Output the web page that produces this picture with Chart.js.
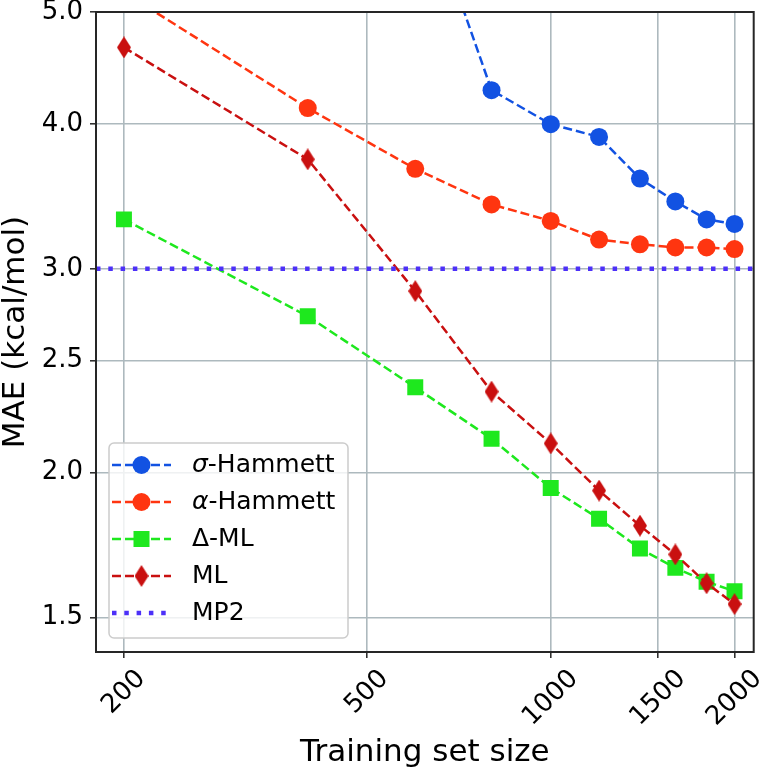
<!DOCTYPE html>
<html><head><meta charset="utf-8">
<script src="https://cdn.jsdelivr.net/npm/chart.js@4.4.1/dist/chart.umd.min.js"></script>
<style>html,body{margin:0;padding:0;background:#fff}canvas{display:block}</style>
</head><body>
<canvas id="c" width="765" height="774"></canvas>
<script>
// ---- data ----
const trainingSizes = [200, 400, 600, 800, 1000, 1200, 1400, 1600, 1800, 2000];
const sigmaHammett = [null, null, 6.6, 4.28, 4.00, 3.90, 3.59, 3.43, 3.31, 3.28];
const alphaHammett = [5.2, 4.13, 3.66, 3.41, 3.30, 3.18, 3.15, 3.13, 3.13, 3.12];
const deltaML = [3.31, 2.73, 2.37, 2.14, 1.94, 1.825, 1.72, 1.655, 1.61, 1.58];
const mlValues = [4.66, 3.73, 2.87, 2.35, 2.12, 1.93, 1.80, 1.70, 1.605, 1.54];
const mp2Value = 3.0;
const xTickValues = [200, 500, 1000, 1500, 2000];
const xTickLabels = ['200', '500', '1000', '1500', '2000'];
const yTickValues = [1.5, 2.0, 2.5, 3.0, 4.0, 5.0];
const yTickLabels = ['1.5', '2.0', '2.5', '3.0', '4.0', '5.0'];
const seriesNames = ['σ-Hammett', 'α-Hammett', 'Δ-ML', 'ML', 'MP2'];
const X_MIN = 180, X_MAX = 2150, Y_MIN = 1.4, Y_MAX = 5.0;

const FONT = "'DejaVu Sans', sans-serif";
Chart.defaults.font.family = FONT;
Chart.defaults.color = '#000';

const C_SIGMA = '#1252e2', C_ALPHA = '#ff3510', C_DML = '#1ee81e', C_ML = '#c91010', C_MP2 = '#4c30f8';

function makeDiamond(color, w, h) {
  const c = document.createElement('canvas');
  c.width = w; c.height = h;
  const g = c.getContext('2d');
  g.fillStyle = color;
  g.beginPath();
  g.moveTo(w / 2, 0); g.lineTo(w, h / 2); g.lineTo(w / 2, h); g.lineTo(0, h / 2);
  g.closePath(); g.fill();
  return c;
}
const diamondImg = makeDiamond(C_ML, 14, 22);

function pts(arr) {
  return trainingSizes.map((x, i) => ({x, y: arr[i]})).filter(p => p.y !== null);
}

const DASH = [9, 4];
const LW = 2.5;

const datasets = [
  {label: seriesNames[0], data: pts(sigmaHammett), borderColor: C_SIGMA, backgroundColor: C_SIGMA,
   borderDash: DASH, borderWidth: LW, pointStyle: 'circle', pointRadius: 9, pointBorderWidth: 0, order: 5},
  {label: seriesNames[1], data: pts(alphaHammett), borderColor: C_ALPHA, backgroundColor: C_ALPHA,
   borderDash: DASH, borderWidth: LW, pointStyle: 'circle', pointRadius: 9, pointBorderWidth: 0, order: 4},
  {label: seriesNames[2], data: pts(deltaML), borderColor: C_DML, backgroundColor: C_DML,
   borderDash: DASH, borderWidth: LW, pointStyle: 'rect', pointRadius: 11.3, pointBorderWidth: 0, order: 3},
  {label: seriesNames[3], data: pts(mlValues), borderColor: C_ML, backgroundColor: C_ML,
   borderDash: DASH, borderWidth: LW, pointStyle: diamondImg, pointRadius: 10, pointBorderWidth: 0, order: 2},
  {label: seriesNames[4], data: [{x: X_MIN, y: mp2Value}, {x: X_MAX, y: mp2Value}], borderColor: C_MP2,
   borderDash: [4.5, 7.8], borderWidth: 4.5, borderCapStyle: 'butt', pointRadius: 0, order: 1}
];

const legendStyles = [
  {color: C_SIGMA, marker: 'circle', italic: 'σ', rest: '-Hammett'},
  {color: C_ALPHA, marker: 'circle', italic: 'α', rest: '-Hammett'},
  {color: C_DML, marker: 'rect', italic: '', rest: 'Δ-ML'},
  {color: C_ML, marker: 'diamond', italic: '', rest: 'ML'},
  {color: C_MP2, marker: 'dots', italic: '', rest: 'MP2'}
];

const extras = {
  id: 'extras',
  afterDatasetsDraw(chart) {
    const {ctx, chartArea: a} = chart;
    ctx.save();
    ctx.strokeStyle = '#262626'; ctx.lineWidth = 2;
    ctx.strokeRect(a.left, a.top, a.right - a.left, a.bottom - a.top);
    ctx.restore();
  },
  afterDraw(chart) {
    const {ctx, chartArea: a} = chart;
    const xs = chart.scales.x;
    // x tick labels rotated 45deg, centred on tick (matplotlib style)
    ctx.save();
    ctx.font = '26px ' + FONT;
    ctx.fillStyle = '#000';
    ctx.textAlign = 'center'; ctx.textBaseline = 'middle';
    const top = a.bottom + 6 + 6;
    xTickValues.forEach((v, i) => {
      const px = xs.getPixelForValue(v);
      const w = ctx.measureText(xTickLabels[i]).width;
      const h = 26 * 1.17;
      const d = (w + h) / Math.SQRT2;
      ctx.save();
      ctx.translate(px, top + d / 2);
      ctx.rotate(-Math.PI / 4);
      ctx.fillText(xTickLabels[i], 0, 0);
      ctx.restore();
    });
    ctx.restore();

    // legend
    const bx = 109, by = 443, bw = 239, bh = 195, r = 5;
    ctx.save();
    ctx.beginPath();
    ctx.moveTo(bx + r, by);
    ctx.arcTo(bx + bw, by, bx + bw, by + bh, r);
    ctx.arcTo(bx + bw, by + bh, bx, by + bh, r);
    ctx.arcTo(bx, by + bh, bx, by, r);
    ctx.arcTo(bx, by, bx + bw, by, r);
    ctx.closePath();
    ctx.fillStyle = 'rgba(255,255,255,0.8)';
    ctx.fill();
    ctx.strokeStyle = '#cccccc'; ctx.lineWidth = 1.5;
    ctx.stroke();
    const rowY = [465, 502, 539, 576, 613];
    const hx0 = 112, hx1 = 171, hm = 141.5, tx = 192;
    legendStyles.forEach((s, i) => {
      const y = rowY[i];
      ctx.save();
      ctx.strokeStyle = s.color;
      if (s.marker === 'dots') {
        ctx.lineWidth = 4.5; ctx.setLineDash([4.5, 7.8]); ctx.lineCap = 'butt';
      } else {
        ctx.lineWidth = LW; ctx.setLineDash(DASH);
      }
      ctx.beginPath(); ctx.moveTo(hx0, y); ctx.lineTo(hx1, y); ctx.stroke();
      ctx.restore();
      ctx.fillStyle = s.color;
      if (s.marker === 'circle') {
        ctx.beginPath(); ctx.arc(hm, y, 9, 0, Math.PI * 2); ctx.fill();
      } else if (s.marker === 'rect') {
        ctx.fillRect(hm - 8, y - 8, 16, 16);
      } else if (s.marker === 'diamond') {
        ctx.drawImage(diamondImg, hm - 7, y - 11);
      }
      ctx.fillStyle = '#000';
      ctx.textAlign = 'left'; ctx.textBaseline = 'middle';
      let x = tx;
      if (s.italic) {
        ctx.font = 'italic 25px ' + FONT;
        ctx.fillText(s.italic, x, y);
        x += ctx.measureText(s.italic).width;
      }
      ctx.font = '25px ' + FONT;
      ctx.fillText(s.rest, x, y);
    });
    ctx.restore();
  }
};

const gridCfg = {color: '#adb9be', lineWidth: 1.6, drawTicks: true, tickLength: 6, tickColor: '#262626', tickWidth: 1.5};

new Chart(document.getElementById('c'), {
  type: 'line',
  data: {datasets},
  options: {
    responsive: false,
    animation: false,
    layout: {padding: {top: 12, right: 10, left: 0, bottom: 0}},
    plugins: {legend: {display: false}, tooltip: {enabled: false}},
    scales: {
      x: {
        type: 'logarithmic', min: X_MIN, max: X_MAX, position: 'bottom',
        grid: gridCfg,
        border: {display: false},
        ticks: {display: false, autoSkip: false},
        title: {display: true, text: 'Training set size', font: {size: 31, lineHeight: 1.2}, padding: {top: 0, bottom: 2}},
        afterBuildTicks: s => { s.ticks = xTickValues.map(v => ({value: v})); },
        afterFit: s => { s.height = 122; s.paddingLeft = 0; s.paddingRight = 0; }
      },
      y: {
        type: 'logarithmic', min: Y_MIN, max: Y_MAX, position: 'left',
        grid: gridCfg,
        border: {display: false},
        ticks: {
          font: {size: 26}, padding: 7, color: '#000',
          callback: (v) => { const i = yTickValues.findIndex(t => Math.abs(t - v) < 1e-9); return i >= 0 ? yTickLabels[i] : ''; }
        },
        title: {display: true, text: 'MAE (kcal/mol)', font: {size: 31, lineHeight: 1.0}, padding: {top: 0, bottom: 0}},
        afterBuildTicks: s => { s.ticks = yTickValues.map(v => ({value: v})); },
        afterFit: s => { s.width = 96; s.paddingTop = 0; s.paddingBottom = 0; }
      }
    }
  },
  plugins: [extras]
});
</script>
</body></html>
